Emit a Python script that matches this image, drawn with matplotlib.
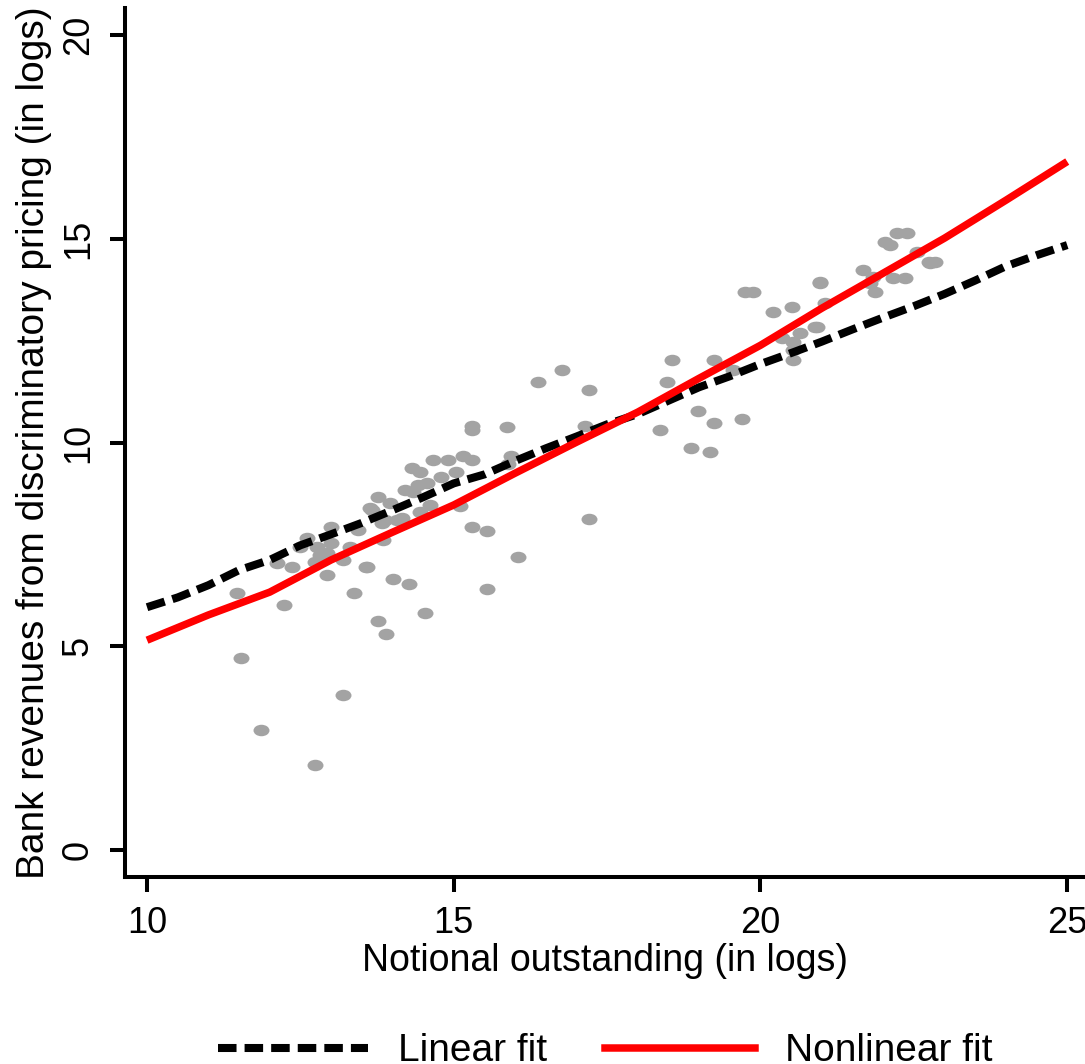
import numpy as np
import matplotlib
matplotlib.use('Agg')
import matplotlib.pyplot as plt
from matplotlib.path import Path
from matplotlib.lines import Line2D

plt.rcParams['font.family'] = ['Liberation Sans', 'DejaVu Sans']

# 散点数据: 名义未偿余额 (log) 与 歧视性定价收入 (log)
notional = [11.47, 12.23, 13.38, 12.93, 14.01, 14.27, 14.53, 13.77, 13.90, 11.53,
            13.20, 11.86, 12.74,
            12.12, 12.36, 12.61, 12.49, 12.77, 12.82, 12.74, 12.93, 13.00, 13.00,
            13.20, 13.31, 13.44, 13.59, 13.67, 13.77, 13.85, 13.88, 13.96, 14.08,
            14.16, 14.21, 14.32, 14.45, 14.42, 14.45, 14.61, 14.66, 14.34, 14.57,
            13.83, 13.63, 13.57,
            15.30, 15.30, 15.87, 14.91, 15.15, 15.30, 14.79, 15.04, 15.10, 15.30,
            15.54, 15.54, 16.05, 16.38, 16.77, 17.21, 17.14, 15.93, 15.89, 17.21,
            18.36,
            19.75, 19.88, 20.97, 20.21, 20.52, 20.92, 20.65, 20.35, 20.53, 20.53,
            20.53, 18.56, 19.25, 18.48, 19.55, 18.98, 19.25, 19.70, 18.87, 19.18,
            22.23, 22.39, 22.03, 22.11, 21.67, 22.75, 22.85, 22.55, 20.97, 21.05,
            21.84, 22.16, 22.36, 21.79, 21.87, 20.89, 22.77]
revenue = [6.31, 6.01, 6.31, 6.75, 6.65, 6.53, 5.82, 5.62, 5.30, 4.71,
           3.80, 2.94, 2.09,
           7.04, 6.95, 7.66, 7.44, 7.44, 7.24, 7.07, 7.29, 7.53, 7.93,
           7.12, 7.44, 7.85, 6.95, 8.34, 8.66, 7.61, 8.10, 8.52, 8.10,
           8.15, 8.83, 9.37, 9.28, 8.96, 8.29, 8.47, 9.57, 8.79, 9.00,
           8.02, 8.39, 6.94,
           10.30, 10.42, 10.38, 9.57, 9.67, 9.57, 9.15, 9.28, 8.44, 7.93,
           7.83, 6.40, 7.19, 11.48, 11.78, 11.29, 10.40, 9.67, 9.47, 8.12,
           10.31,
           13.69, 13.69, 13.91, 13.20, 13.33, 12.83, 12.69, 12.56, 12.47, 12.27,
           12.02, 12.02, 12.02, 11.48, 11.78, 10.77, 10.48, 10.58, 9.86, 9.77,
           15.14, 15.14, 14.92, 14.85, 14.23, 14.43, 14.43, 14.68, 13.94, 13.42,
           14.06, 14.04, 14.04, 13.91, 13.69, 12.83, 14.40]

# 线性拟合曲线
linear_x = [10.0, 10.5, 11.0, 11.5, 12.0, 12.5, 13.0, 13.5, 14.0, 14.5, 15.0,
            15.5, 16.0, 16.5, 17.0, 17.5, 18.0, 18.5, 19.0, 19.5, 20.0,
            20.5, 21.0, 21.5, 22.0, 22.5, 23.0, 23.5, 24.0, 24.5, 25.0]
linear_y = [5.96, 6.20, 6.50, 6.87, 7.12, 7.48, 7.75, 8.03, 8.34, 8.66, 9.00,
            9.22, 9.55, 9.86, 10.15, 10.45, 10.70, 11.03, 11.36, 11.63, 11.93,
            12.20, 12.48, 12.78, 13.07, 13.35, 13.65, 13.98, 14.33, 14.60, 14.85]

# 非线性拟合曲线
nonlinear_x = [10, 11, 12, 13, 14, 15, 16, 17, 18, 19, 20, 21, 22, 23, 24, 25]
nonlinear_y = [5.15, 5.77, 6.33, 7.12, 7.80, 8.47, 9.25, 10.01, 10.75, 11.58,
               12.39, 13.30, 14.16, 15.02, 15.95, 16.90]

# 椭圆形散点标记
circle = Path.unit_circle()
ellipse = Path(circle.vertices * np.array([1.0, 0.72]), circle.codes)

dash = (0, (2.3, 1.0))

fig = plt.figure(figsize=(10.85, 10.64), dpi=100)
ax = fig.add_axes([125 / 1085, 1 - 877 / 1064, 960 / 1085, 869 / 1064])

ax.plot(notional, revenue, linestyle='none', marker=ellipse, markersize=11.5,
        markerfacecolor='#a3a3a3', markeredgecolor='none', zorder=1)
ax.plot(linear_x, linear_y, color='black', linewidth=5.8,
        linestyle=dash, dash_capstyle='butt', zorder=2)
ax.plot(nonlinear_x, nonlinear_y, color='#ff0000', linewidth=5.4,
        solid_capstyle='butt', zorder=3)

ax.set_xlim(9.641, 25.29)
ax.set_ylim(-0.663, 20.67)
ax.set_xticks([10, 15, 20, 25])
ax.set_yticks([0, 5, 10, 15, 20])

for side in ['top', 'right']:
    ax.spines[side].set_visible(False)
for side in ['left', 'bottom']:
    ax.spines[side].set_linewidth(2.9)

ax.tick_params(axis='both', direction='out', length=11, width=2.9,
               labelsize=26, pad=10)
for lab in ax.get_yticklabels():
    lab.set_rotation(90)
    lab.set_va('center')

ax.set_xlabel('Notional outstanding (in logs)', fontsize=27, labelpad=1)
ax.set_ylabel('Bank revenues from discriminatory pricing (in logs)',
              fontsize=28, labelpad=6)

# 图例
handles = [Line2D([], [], color='black', linewidth=5.8, linestyle=dash,
                  dash_capstyle='butt'),
           Line2D([], [], color='#ff0000', linewidth=5.4)]
fig.legend(handles, ['Linear fit', 'Nonlinear fit'], ncol=2, fontsize=28,
           frameon=False, loc='upper center', bbox_to_anchor=(0.558, 0.047),
           borderpad=0, handlelength=3.85, handletextpad=0.77, columnspacing=1.5)

fig.savefig('out.png', dpi=100)
